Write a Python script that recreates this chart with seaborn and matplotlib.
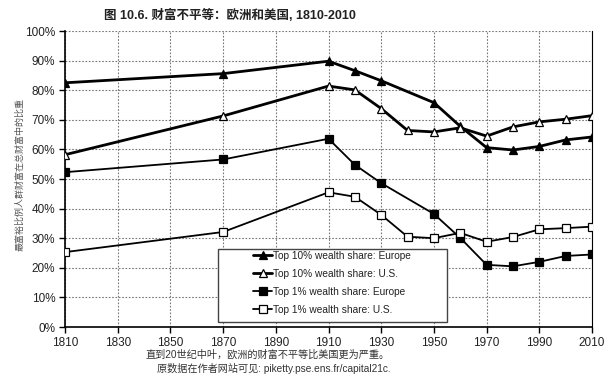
import matplotlib
matplotlib.use("Agg")
import matplotlib.pyplot as plt
import seaborn as sns
import pandas as pd
from matplotlib.ticker import FuncFormatter
from matplotlib.patches import Rectangle

sns.set_theme(style="white")
plt.rcParams['font.family'] = ['Liberation Sans', 'Noto Sans CJK SC', 'DejaVu Sans']

years_eu10 = [1810, 1870, 1910, 1920, 1930, 1950, 1960, 1970, 1980, 1990, 2000, 2010]
eu_top10 = [82.5, 85.6, 89.8, 86.6, 83.2, 75.8, 67.8, 60.6, 59.8, 61.0, 63.2, 64.2]

years_us10 = [1810, 1870, 1910, 1920, 1930, 1940, 1950, 1960, 1970, 1980, 1990, 2000, 2010]
us_top10 = [58.2, 71.3, 81.4, 80.1, 73.8, 66.4, 65.9, 67.3, 64.5, 67.6, 69.3, 70.2, 71.4]

years_eu1 = [1810, 1870, 1910, 1920, 1930, 1950, 1960, 1970, 1980, 1990, 2000, 2010]
eu_top1 = [52.3, 56.6, 63.6, 54.8, 48.6, 38.2, 30.1, 21.0, 20.5, 22.0, 24.0, 24.5]

years_us1 = [1810, 1870, 1910, 1920, 1930, 1940, 1950, 1960, 1970, 1980, 1990, 2000, 2010]
us_top1 = [25.3, 32.1, 45.5, 44.0, 37.9, 30.5, 30.0, 31.8, 28.8, 30.4, 33.0, 33.4, 33.9]

labels = ["Top 10% wealth share: Europe", "Top 10% wealth share: U.S.",
          "Top 1% wealth share: Europe", "Top 1% wealth share: U.S."]
xticks = list(range(1810, 2011, 20))
yticks = list(range(0, 101, 10))

title = "图 10.6. 财富不平等：欧洲和美国, 1810-2010"
ylabel = "最富裕比例人群财富在总财富中的比重"
note1 = "直到20世纪中叶，欧洲的财富不平等比美国更为严重。"
note2 = "原数据在作者网站可见: piketty.pse.ens.fr/capital21c."

W, H = 614, 381
fig = plt.figure(figsize=(6.14, 3.81), dpi=100)
L, R, T, B = 65, 592, 31, 327
ax = fig.add_axes([L/W, 1-B/H, (R-L)/W, (B-T)/H])

series = [
    (years_eu10, eu_top10, labels[0], '^', 'black', 2.0, 6),
    (years_us10, us_top10, labels[1], '^', 'white', 2.0, 6),
    (years_eu1, eu_top1, labels[2], 's', 'black', 1.3, 5.5),
    (years_us1, us_top1, labels[3], 's', 'white', 1.3, 5.5),
]
for xs, ys, lab, mk, fc, lw, ms in series:
    df = pd.DataFrame({"year": xs, "share": ys})
    sns.lineplot(data=df, x="year", y="share", ax=ax, color='black', lw=lw,
                 marker=mk, markersize=ms, markerfacecolor=fc,
                 markeredgecolor='black', markeredgewidth=0.9, label=lab,
                 zorder=3)

ax.set_xlim(1810, 2010)
ax.set_ylim(0, 100)
ax.set_xticks(xticks)
ax.set_yticks(yticks)
ax.yaxis.set_major_formatter(FuncFormatter(lambda v, p: f"{int(v)}%"))
ax.grid(True, color='#777777', linestyle=(0, (1.5, 1.5)), linewidth=0.8)
ax.set_axisbelow(True)
ax.set_xlabel("")
ax.set_ylabel("")
for s in ['left', 'bottom', 'right']:
    ax.spines[s].set_visible(True)
    ax.spines[s].set_color('black')
    ax.spines[s].set_linewidth(1.2)
ax.spines['right'].set_linewidth(0.8)
ax.spines['top'].set_visible(False)
ax.tick_params(axis='both', which='both', length=4, width=1, color='black',
               direction='out', labelsize=8.5, labelcolor='#222222', pad=3,
               bottom=True, left=True)

# legend box frame
bx0, by0, bx1, by1 = 218, 249, 447, 322
rect = Rectangle(((bx0-L)/(R-L), (B-by1)/(B-T)), (bx1-bx0)/(R-L), (by1-by0)/(B-T),
                 transform=ax.transAxes, facecolor='white', edgecolor='#444444',
                 linewidth=1.0, zorder=4)
ax.add_patch(rect)
leg = ax.legend(loc='upper left', bbox_to_anchor=((253-L)/(R-L), (B-251)/(B-T)),
                frameon=False, fontsize=7.3, handlelength=1.9, handletextpad=0.05,
                labelspacing=0.78, borderpad=0.0, borderaxespad=0)
for t in leg.get_texts():
    t.set_color('#222222')
leg.set_zorder(5)

fig.text(230/W, 1-15/H, title, ha='center', va='center', fontsize=9,
         fontweight='bold', color='#222222',
         family=['Liberation Sans', 'Noto Sans CJK SC'])
fig.text(20/W, 1-175/H, ylabel, ha='center', va='center', rotation=90,
         fontsize=6.5, color='#555555', family=['Noto Sans CJK SC'])
fig.text(146/W, 1-355/H, note1, ha='left', va='center', fontsize=7.3,
         color='#333333', family=['Liberation Sans', 'Noto Sans CJK SC'])
fig.text(157/W, 1-369/H, note2, ha='left', va='center', fontsize=7.3,
         color='#333333', family=['Liberation Sans', 'Noto Sans CJK SC'])

fig.savefig("out.png", dpi=100, facecolor='white')
